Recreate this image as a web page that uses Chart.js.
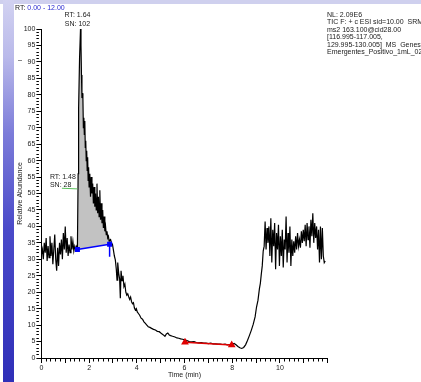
<!DOCTYPE html>
<html><head><meta charset="utf-8">
<script src="https://cdn.jsdelivr.net/npm/chart.js@4/dist/chart.umd.min.js"></script>
<style>html,body{margin:0;padding:0;background:#fff}canvas{display:block}</style>
</head><body>
<canvas id="c" width="421" height="382" style="width:421px;height:382px"></canvas>
<script>
// ---- data ----
const times = [
0.00,0.04,0.08,0.12,0.16,0.20,0.24,0.28,0.32,0.36,
0.40,0.44,0.48,0.52,0.56,0.60,0.64,0.68,0.72,0.76,
0.80,0.84,0.88,0.92,0.96,1.00,1.04,1.08,1.12,1.16,
1.20,1.24,1.28,1.32,1.36,1.40,1.44,1.48,
1.51,1.54,1.56,1.60,1.64,1.66,1.68,1.70,1.72,1.74,
1.76,1.78,1.80,1.82,1.84,1.86,1.88,1.90,1.92,1.94,
1.96,1.98,2.00,2.03,2.06,2.09,2.12,2.15,2.18,2.21,
2.24,2.27,2.30,2.33,2.36,2.39,2.42,2.45,2.48,2.51,
2.54,2.57,2.60,2.63,2.66,2.69,2.72,2.75,2.78,2.81,
2.84,2.86,
2.90,2.94,2.98,3.02,3.06,3.10,3.14,3.17,3.20,3.24,
3.28,3.31,3.34,3.38,3.42,3.46,3.50,3.54,3.58,3.62,
3.66,3.70,3.74,3.78,3.82,3.86,3.90,3.94,3.98,4.02,
4.06,4.12,4.18,4.24,4.30,4.36,4.42,4.48,4.55,4.62,
4.70,4.78,4.86,4.94,5.02,5.10,5.18,5.24,5.30,5.36,
5.42,5.50,5.60,5.68,5.76,5.84,5.92,6.00,6.10,6.20,
6.30,6.40,6.50,6.60,6.70,6.80,6.90,7.00,7.10,7.20,
7.30,7.40,7.50,7.60,7.70,7.80,7.90,8.00,8.08,8.16,
8.24,8.32,8.40,8.48,8.56,8.64,8.72,8.80,8.88,8.96,
9.02,9.08,9.14,9.18,9.22,9.26,9.30,9.34,
9.38,9.42,9.46,9.50,9.54,9.58,9.62,9.66,9.70,9.74,
9.78,9.82,9.86,9.90,9.94,9.98,10.02,10.06,10.10,10.14,
10.18,10.22,10.26,10.30,10.34,10.38,10.42,10.46,10.50,10.54,
10.58,10.62,10.66,10.70,10.74,10.78,10.82,10.86,10.90,10.94,
10.98,11.02,11.06,11.10,11.14,11.18,11.22,11.26,11.30,11.34,
11.38,11.42,11.46,11.50,11.54,11.58,11.62,11.66,11.70,11.74,
11.78,11.82,11.86,11.90
];
const abundance = [
31.5,33,30,35,32,36.5,29.5,34,30.5,37,
31,35,28.5,33,37.5,30,26.5,33.5,28,35,
31.5,36,30,38,33,40,32,36.5,31,34.5,
32,37,33,35.5,32.5,34,33,34,
33.5,56,76,91,100,95,86,79,80.5,79,
70,73,68,72,64,66,60,63,57,61,
54,58,52,56,49,55,50,53,47,52,
46,50,45,53,44,49,43,51,42,47,
41,45,39.5,43,38.5,40,37.5,38.5,36.5,37,
35.5,35.8,
36,35,34.5,32.8,31,29.8,27,23.7,29,25.8,
24,18.2,26.5,23.5,25,21.7,22.5,20,19.1,19.5,
18.6,17.8,18.5,17.1,16.5,16.8,15.2,14.6,15,14,
13.6,13,12.1,11.8,11,10.5,10,9.5,9.3,9,
8.7,8.5,8.1,8,7.5,7.1,6.6,7.3,7.6,7,
6.8,6.6,6.4,6.1,6,5.8,5.7,5.5,5.3,5,
4.9,5,4.7,4.6,4.7,4.5,4.5,4.4,4.5,4.3,
4.3,4.2,4.2,4.1,4.2,4,4.1,4.2,4.4,4,
3.5,3.1,2.9,3.2,4,5.3,6.8,8.4,10.2,12.5,
15.5,17.5,21,22.7,25.5,28,32.5,34,
41.5,33,39.5,35,40,31,42.5,29,39,34,
41,27,38,33,40.5,28,37,31,39,27.5,
36,33,43,29,38,32,40,28,36,31,
35.5,32,37,33,38,34,36,33.5,38.5,35,
39,35.5,40.5,34,41,36,40,33.5,42,37,
44,35,41,36.5,40,33,39,29,40,30,
39.5,31,29,29.5
];
// integrated peak (start/end retention time) and its baseline
const peakStart = 1.51, peakEnd = 2.86;
const baselineTimes = [1.51, 2.86];
const baselineValues = [33.0, 34.6];
const baselineTickValues = [34.6, 30.8];
// noise region used for S/N
const noiseTimes = [6.02, 7.98];
const noiseValues = [4.8, 3.95];
// label leader line
const leaderTimes = [0.86, 1.51];
const leaderValues = [51.6, 51.4];
// peak annotations
const apexLabel = {rt: '1.64', sn: '102', t: 1.64};
const startLabel = {rt: '1.48', sn: '28'};
const xTickLabels = [0, 2, 4, 6, 8, 10];
const yTickLabels = [0,5,10,15,20,25,30,35,40,45,50,55,60,65,70,75,80,85,90,95,100];
const headerLines = [
  'NL: 2.09E6',
  'TIC F: + c ESI sid=10.00  SRM',
  'ms2 163.100@cid28.00',
  '[116.995-117.005,',
  '129.995-130.005]  MS  Genesis',
  'Emergentes_Positivo_1mL_02'
];

const FONT = '"Liberation Sans", Arial, sans-serif';
Chart.defaults.font.family = FONT;
Chart.defaults.font.size = 7;
Chart.defaults.color = '#1a1a1a';

const traceData = times.map((t, i) => ({x: t, y: abundance[i]}));
const shadeData = traceData.filter(p => p.x >= peakStart - 1e-9 && p.x <= peakEnd + 1e-9);
const baselineData = baselineTimes.map((t, i) => ({x: t, y: baselineValues[i]}));
const tickData = baselineTickValues.map(v => ({x: peakEnd, y: v}));
const noiseData = noiseTimes.map((t, i) => ({x: t, y: noiseValues[i]}));
const leaderData = leaderTimes.map((t, i) => ({x: t, y: leaderValues[i]}));

const isInt = v => Math.abs(v - Math.round(v)) < 1e-6;

const bgPlugin = {
  id: 'bg',
  beforeDraw(chart) {
    const ctx = chart.ctx;
    ctx.save();
    ctx.fillStyle = '#ffffff';
    ctx.fillRect(0, 0, chart.width, chart.height);
    ctx.fillStyle = '#cfd0ee';
    ctx.fillRect(0, 0, chart.width, 4);
    const g = ctx.createLinearGradient(0, 0, 0, chart.height);
    g.addColorStop(0, '#d2d2f1');
    g.addColorStop(0.15, '#b9b9ea');
    g.addColorStop(0.35, '#7c7cd9');
    g.addColorStop(0.6, '#4a4ac9');
    g.addColorStop(1, '#2f2fb8');
    ctx.fillStyle = g;
    ctx.fillRect(3, 0, 11, chart.height);
    ctx.strokeStyle = '#888';
    ctx.lineWidth = 1;
    ctx.beginPath(); ctx.moveTo(18, 60.5); ctx.lineTo(22, 60.5); ctx.stroke();
    ctx.restore();
  }
};

const textPlugin = {
  id: 'texts',
  afterDraw(chart) {
    const ctx = chart.ctx;
    const xs = chart.scales.x, ys = chart.scales.y;
    ctx.save();
    ctx.font = '7px ' + FONT;
    ctx.textBaseline = 'middle';
    ctx.textAlign = 'left';
    ctx.fillStyle = '#1a1a1a';
    ctx.fillText('RT:', 15, 8);
    const w = ctx.measureText('RT: ').width;
    ctx.fillStyle = '#2b2bd0';
    ctx.fillText('0.00 - 12.00', 15 + w, 8);
    ctx.fillStyle = '#1a1a1a';
    // apex label
    ctx.textAlign = 'center';
    const ax = xs.getPixelForValue(apexLabel.t) - 3;
    ctx.fillText('RT: ' + apexLabel.rt, ax, 15);
    ctx.fillText('SN: ' + apexLabel.sn, ax, 24);
    // start label
    ctx.textAlign = 'left';
    const sx = xs.getPixelForValue(leaderTimes[0]) - 12;
    const sy = ys.getPixelForValue(leaderValues[0]);
    ctx.fillText('RT: ' + startLabel.rt, sx, sy - 11.5);
    ctx.fillText('SN: ' + startLabel.sn, sx, sy - 3);
    // header block
    headerLines.forEach((s, i) => ctx.fillText(s, 327, 15 + i * 7.4));
    ctx.restore();
  }
};

new Chart(document.getElementById('c'), {
  type: 'line',
  data: {
    datasets: [
      {data: traceData, borderColor: '#000', borderWidth: 1.2, pointRadius: 0, fill: false, order: 1},
      {data: shadeData, borderWidth: 0, borderColor: 'rgba(0,0,0,0)', backgroundColor: '#c2c2c2', pointRadius: 0, fill: '+1', order: 2},
      {data: baselineData, borderColor: '#0000ff', borderWidth: 1.5, pointStyle: 'rect', pointRadius: 2.5,
       pointBackgroundColor: '#0000ff', pointBorderColor: '#0000ff', fill: false, order: 0},
      {data: tickData, borderColor: '#0000ff', borderWidth: 1.5, pointRadius: 0, fill: false, order: 0},
      {data: noiseData, borderColor: '#e00000', borderWidth: 1.5, pointStyle: 'triangle', pointRadius: 3,
       pointBackgroundColor: '#e00000', pointBorderColor: '#e00000', fill: false, order: 0},
      {data: leaderData, borderColor: '#5cc05c', borderWidth: 1, pointRadius: 0, fill: false, order: 0}
    ]
  },
  options: {
    responsive: false,
    animation: false,
    devicePixelRatio: 1,
    layout: {padding: {left: 0, top: 29, right: 93.4, bottom: 0}},
    plugins: {legend: {display: false}, tooltip: {enabled: false}, title: {display: false}},
    elements: {line: {tension: 0}},
    scales: {
      x: {
        type: 'linear', min: 0, max: 12,
        afterFit(s) { s.height = 24; },
        border: {display: true, color: '#000', width: 1},
        grid: {display: true, drawOnChartArea: false, drawTicks: true, tickLength: 5, tickColor: '#000', tickWidth: 1,
               tickBorderDash: c => (c.tick && isInt(c.tick.value)) ? [] : [2.5, 30]},
        ticks: {stepSize: 0.2, autoSkip: false, maxRotation: 0, padding: 1, color: '#1a1a1a',
                callback: v => (isInt(v) && xTickLabels.includes(Math.round(v))) ? String(Math.round(v)) : ''},
        title: {display: true, text: 'Time (min)', color: '#1a1a1a', font: {size: 7}, padding: {top: 0, bottom: 2.3}}
      },
      y: {
        type: 'linear', min: 0, max: 100,
        afterFit(s) { s.width = 41.4; },
        border: {display: true, color: '#000', width: 1},
        grid: {display: true, drawOnChartArea: false, drawTicks: true, tickLength: 5, tickColor: '#000', tickWidth: 1,
               tickBorderDash: c => (c.tick && Math.round(c.tick.value) % 5 === 0) ? [] : [2.5, 30]},
        ticks: {stepSize: 1, autoSkip: false, padding: 1, color: '#1a1a1a',
                callback: v => yTickLabels.includes(v) ? String(v) : ''},
        title: {display: true, text: 'Relative Abundance', color: '#1a1a1a', font: {size: 7}, padding: {top: 15.8, bottom: 0}}
      }
    }
  },
  plugins: [bgPlugin, textPlugin]
});
</script>
</body></html>
